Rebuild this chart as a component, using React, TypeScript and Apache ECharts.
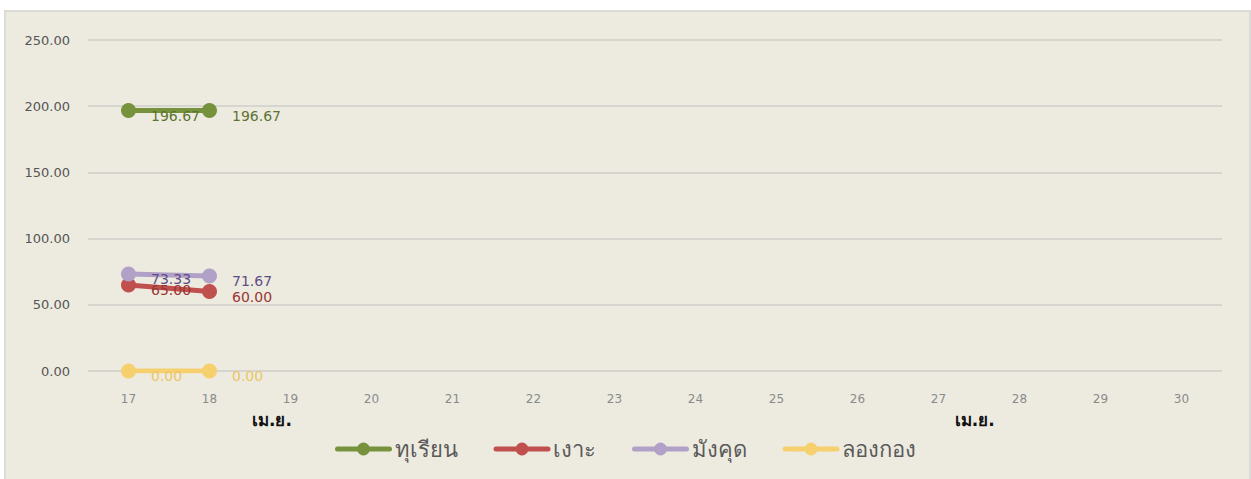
import React, { useEffect, useRef } from "react";
import * as echarts from "echarts";

const days = ["17", "18", "19", "20", "21", "22", "23", "24", "25", "26", "27", "28", "29", "30"];
const yTicks = [0, 50, 100, 150, 200, 250];
const monthLabel = "เม.ย.";
const seriesNames = ["ทุเรียน", "เงาะ", "มังคุด", "ลองกอง"];
const durian = [196.67, 196.67];
const rambutan = [65.0, 60.0];
const mangosteen = [73.33, 71.67];
const longkong = [0.0, 0.0];
const lineColors = ["#76923C", "#C0504D", "#B2A1C7", "#F6D06F"];
const labelColors = ["#5E7431", "#9A3532", "#5F4D86", "#EBC566"];

const FONT = "'DejaVu Sans', 'Noto Sans', sans-serif";

export default function App() {
  const ref = useRef<HTMLDivElement>(null);
  useEffect(() => {
    if (!ref.current) return;
    const chart = echarts.init(ref.current, null, { renderer: "svg" });
    const values = [durian, rambutan, mangosteen, longkong];
    const gridLeft = 88;
    const gridRight = 29;
    const plotW = 1251 - gridLeft - gridRight;
    const step = plotW / days.length;
    chart.setOption({
      animation: false,
      textStyle: { fontFamily: FONT },
      grid: { left: gridLeft, right: gridRight, top: 40, bottom: 108, containLabel: false },
      xAxis: {
        type: "category",
        data: days,
        boundaryGap: true,
        axisLine: { show: false },
        axisTick: { show: false },
        axisLabel: { color: "#8a8a8a", fontSize: 12, margin: 22, fontFamily: FONT },
      },
      yAxis: {
        type: "value",
        min: yTicks[0],
        max: yTicks[yTicks.length - 1],
        interval: 50,
        axisLine: { show: false },
        axisTick: { show: false },
        splitLine: { lineStyle: { color: "#D6D5D0", width: 2 } },
        axisLabel: {
          color: "#555",
          fontSize: 13,
          margin: 18,
          fontFamily: FONT,
          formatter: (v: number) => v.toFixed(2),
        },
      },
      legend: {
        bottom: 14,
        left: "center",
        itemWidth: 52,
        itemHeight: 16,
        itemGap: 36,
        lineStyle: { width: 5, cap: "round" },
        textStyle: { color: "#5a5a5a", fontSize: 22, fontFamily: FONT },
        data: seriesNames,
      },
      graphic: [
        {
          type: "text",
          left: gridLeft + step * 2 + 2,
          top: 411,
          style: { text: monthLabel, fill: "#111", font: `bold 17px ${FONT}` },
        },
        {
          type: "text",
          left: gridLeft + step * 10.7,
          top: 411,
          style: { text: monthLabel, fill: "#111", font: `bold 17px ${FONT}` },
        },
      ],
      series: seriesNames.map((name, i) => ({
        name,
        type: "line",
        data: values[i],
        symbol: "circle",
        symbolSize: 15,
        color: lineColors[i],
        lineStyle: { width: 5, color: lineColors[i] },
        itemStyle: { color: lineColors[i] },
        label: {
          show: true,
          position: "right",
          distance: 15,
          offset: [0, 5],
          color: labelColors[i],
          fontSize: 14,
          fontFamily: FONT,
          formatter: (p: any) => Number(p.value).toFixed(2),
        },
      })),
    });
    return () => chart.dispose();
  }, []);
  return (
    <div style={{ position: "absolute", left: 0, top: 0, width: 1251, height: 479, background: "#fff", overflow: "hidden" }}>
      <div
        style={{
          position: "absolute",
          left: 4,
          top: 10,
          width: 1243,
          height: 475,
          background: "#EDEBE0",
          border: "2px solid #DDDBD6",
        }}
      />
      <div ref={ref} style={{ position: "absolute", left: 0, top: 0, width: 1251, height: 479 }} />
    </div>
  );
}
